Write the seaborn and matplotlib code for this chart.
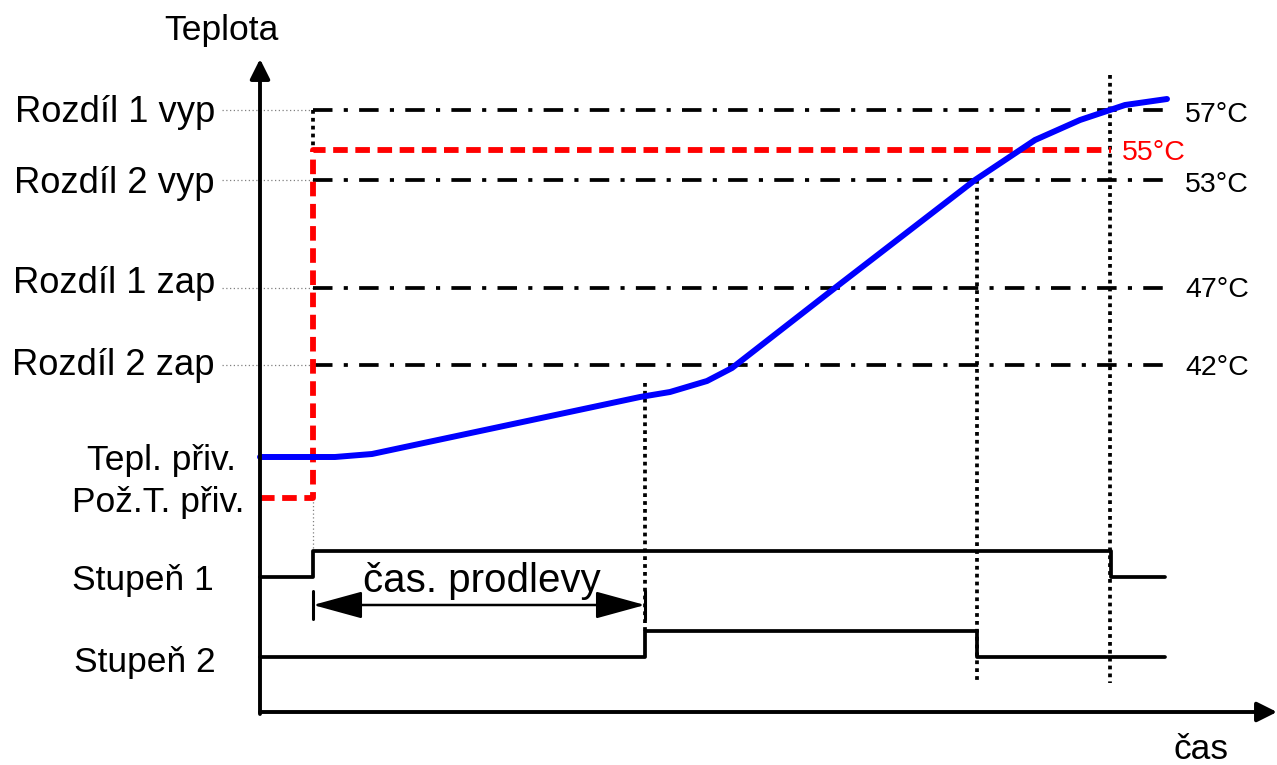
import numpy as np
import matplotlib
matplotlib.use("Agg")
import matplotlib.pyplot as plt
import seaborn as sns

# Schematic coordinates (diagram units, y grows downwards like the drawing)
# time events on the horizontal axis
t_axis = 260
t_on = 313        # demand switches on, stage 1 starts
t_delay = 645     # end of delay time, stage 2 starts
t_s2_off = 977    # stage 2 switches off
t_s1_off = 1111   # stage 1 switches off
t_end = 1165

# threshold levels and their labels
level_names = ['Rozdíl 1 vyp', 'Rozdíl 2 vyp', 'Rozdíl 1 zap', 'Rozdíl 2 zap']
level_temps = ['57°C', '53°C', '47°C', '42°C']
level_pos = [110, 180, 288, 365]
setpoint_pos = 150          # 55 °C
setpoint_label = '55°C'
start_setpoint = 498        # Pož.T. přiv. before switching
start_flow = 457            # Tepl. přiv.

# flow temperature curve
curve_t = [260, 335, 372, 640, 670, 707, 732, 840, 975, 1035, 1080, 1125, 1167]
curve_y = [457, 457, 454, 397, 392, 381, 368, 284, 180, 140, 120, 105, 99]

# required temperature (red)
req_t = [260, t_on, t_on, t_s1_off]
req_y = [start_setpoint, start_setpoint, setpoint_pos, setpoint_pos]

# stage outputs (low / high)
stage1_t = [260, t_on, t_on, t_s1_off, t_s1_off, t_end]
stage1_y = [577, 577, 551, 551, 577, 577]
stage2_t = [260, t_delay, t_delay, t_s2_off, t_s2_off, t_end]
stage2_y = [657, 657, 631, 631, 657, 657]

sns.set_theme(style='white')
plt.rcParams['font.family'] = ['Liberation Sans', 'DejaVu Sans']
plt.rcParams['text.color'] = 'black'

fig = plt.figure(figsize=(12.77, 7.65), dpi=100)
ax = fig.add_axes([0, 0, 1, 1])

# axes arrows
ax.annotate('', xy=(t_axis, 59), xytext=(t_axis, 714),
            arrowprops=dict(arrowstyle='-|>,head_length=1.2,head_width=0.6',
                            mutation_scale=10, lw=2.8, color='black',
                            shrinkA=0, shrinkB=0))
ax.annotate('', xy=(1277, 712), xytext=(260, 712),
            arrowprops=dict(arrowstyle='-|>,head_length=1.2,head_width=0.6',
                            mutation_scale=10, lw=2.8, color='black',
                            shrinkA=0, shrinkB=0))

# threshold lines
dashdot = (0, (5.2, 3.0, 1.1, 3.0))
for lvl in level_pos:
    ax.plot([222, t_on], [lvl, lvl], color='grey', lw=0.9, ls=(0, (1, 2)))
    ax.plot([t_on, t_end], [lvl, lvl], color='black', lw=2.7, ls=dashdot)

# vertical markers
dots = (0, (1, 1.1))
ax.plot([t_on, t_on], [level_pos[0], setpoint_pos], color='black', lw=2.7, ls=dots)
ax.plot([t_on, t_on], [start_setpoint, 551], color='grey', lw=0.9, ls=(0, (1, 2)))
ax.plot([t_delay, t_delay], [383, 631], color='black', lw=2.7, ls=dots)
ax.plot([t_s2_off, t_s2_off], [level_pos[1], 683], color='black', lw=2.7, ls=dots)
ax.plot([t_s1_off - 1, t_s1_off - 1], [75, 683], color='black', lw=2.7, ls=dots)

# stage signals
sns.lineplot(x=stage1_t, y=stage1_y, sort=False, estimator=None, color='black', lw=2.7, ax=ax)
sns.lineplot(x=stage2_t, y=stage2_y, sort=False, estimator=None, color='black', lw=2.7, ax=ax)

# required temperature and flow temperature
sns.lineplot(x=req_t, y=req_y, sort=False, estimator=None, color='#ff0000', lw=4.2,
             linestyle=(0, (2.5, 1.3)), ax=ax)
sns.lineplot(x=curve_t, y=curve_y, sort=False, estimator=None, color='#0000ff', lw=4.3, ax=ax)

ax.set_xlim(0, 1277)
ax.set_ylim(765, 0)
ax.set_axis_off()

# delay time arrow
ax.annotate('', xy=(t_on, 605), xytext=(t_delay, 605),
            arrowprops=dict(arrowstyle='<|-|>,head_length=3.1,head_width=0.85',
                            mutation_scale=10, lw=1.8, color='black',
                            shrinkA=0, shrinkB=0))
ax.plot([t_on, t_on], [591, 619], color='black', lw=2.2)
ax.plot([t_delay, t_delay], [591, 619], color='black', lw=2.2)
ax.text(363, 592, 'čas. prodlevy', fontsize=29, ha='left', va='baseline')

# labels
big = 25.5
for name, lvl, base in zip(level_names, level_pos, [122, 193, 293, 375]):
    ax.text(215, base, name, fontsize=26.2, ha='right', va='baseline')
for temp, base in zip(level_temps, [122, 192, 297, 375]):
    ax.text(1185, base, temp, fontsize=20.5, ha='left', va='baseline')
ax.text(1122, 160, setpoint_label, fontsize=20.5, color='#ff0000', ha='left', va='baseline')

ax.text(236, 470, 'Tepl. přiv.', fontsize=big, ha='right', va='baseline')
ax.text(244, 512, 'Pož.T. přiv.', fontsize=big, ha='right', va='baseline')
ax.text(214, 590, 'Stupeň 1', fontsize=big, ha='right', va='baseline')
ax.text(216, 672, 'Stupeň 2', fontsize=big, ha='right', va='baseline')
ax.text(221, 40, 'Teplota', fontsize=big, ha='center', va='baseline')
ax.text(1201, 759, 'čas', fontsize=big, ha='center', va='baseline')

fig.savefig('out.png', dpi=100)
